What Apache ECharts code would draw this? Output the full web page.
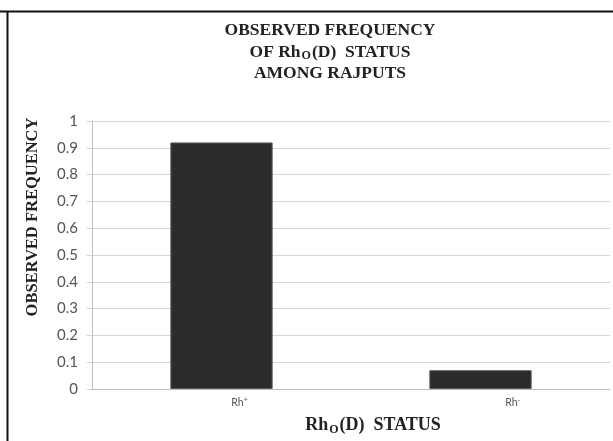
<!DOCTYPE html>
<html><head><meta charset="utf-8">
<script src="https://cdn.jsdelivr.net/npm/echarts@6/dist/echarts.min.js"></script>
<style>html,body{margin:0;padding:0;background:#fff}#c{width:613px;height:441px}</style>
</head><body><div id="c"></div>
<script>
const categories = ['Rh+', 'Rh-'];
const frequencies = [0.92, 0.07];
const yTicks = [0, 0.1, 0.2, 0.3, 0.4, 0.5, 0.6, 0.7, 0.8, 0.9, 1];

const chart = echarts.init(document.getElementById('c'));
const serif = '"Liberation Serif", "Times New Roman", serif';
const sans = 'Lato, "Open Sans", sans-serif';
chart.setOption({
  animation: false,
  backgroundColor: '#fff',
  title: {
    left: 325, top: 15, textAlign: 'center',
    text: '{t|OBSERVED FREQUENCY}\n{t|OF Rh}{s|O}{t|(D)  STATUS}\n{t|AMONG RAJPUTS}',
    textStyle: {
      rich: {
        t: {fontFamily: serif, fontWeight: 'bold', fontSize: 17.5, color: '#222', lineHeight: 21.5},
        s: {fontFamily: serif, fontWeight: 'bold', fontSize: 12, color: '#222', lineHeight: 21.5, padding: [7, 1, 0, 1]}
      }
    }
  },
  graphic: [
    {type: 'line', shape: {x1: 0, y1: 11.5, x2: 613, y2: 11.5}, style: {stroke: '#111', lineWidth: 2}},
    {type: 'line', shape: {x1: 7.5, y1: 11, x2: 7.5, y2: 441}, style: {stroke: '#111', lineWidth: 2}}
  ],
  grid: {left: 92, right: 3, top: 121, bottom: 50},
  xAxis: {
    type: 'category', data: categories,
    axisLine: {lineStyle: {color: '#bfbfbf'}},
    axisTick: {show: false},
    axisLabel: {
      margin: 8,
      formatter: (v) => v === 'Rh+' ? '{p1|Rh}{sp|+}' : '{p2|Rh}{sm|-}',
      rich: {
        p1: {fontFamily: sans, fontSize: 10.5, color: '#555', padding: [0, 0, 0, 36]},
        p2: {fontFamily: sans, fontSize: 10.5, color: '#555', padding: [0, 0, 0, 64]},
        sp: {fontSize: 7, color: '#555', padding: [0, 0, 5, 0]},
        sm: {fontSize: 7, color: '#555', padding: [0, 0, 5, 0]}
      }
    },
    name: '{t|Rh}{s|O}{t|(D)  STATUS}',
    nameLocation: 'middle', nameGap: 26,
    nameTextStyle: {
      rich: {
        t: {fontFamily: serif, fontWeight: 'bold', fontSize: 18, color: '#222'},
        s: {fontFamily: serif, fontWeight: 'bold', fontSize: 12, color: '#222', padding: [9, 1, 0, 1]}
      },
      padding: [0, 0, 0, 44]
    }
  },
  yAxis: {
    type: 'value', min: 0, max: 1, interval: 0.1,
    axisLine: {show: true, lineStyle: {color: '#bfbfbf'}},
    axisTick: {show: true, length: 5, lineStyle: {color: '#d0d0d0'}},
    splitLine: {lineStyle: {color: '#d6d6d6'}},
    axisLabel: {
      margin: 14, fontFamily: sans, fontSize: 15, color: '#555',
      formatter: (v) => String(yTicks.find(t => Math.abs(t - v) < 1e-9) ?? v)
    },
    name: 'OBSERVED FREQUENCY',
    nameLocation: 'middle', nameGap: 51, nameRotate: 90,
    nameTextStyle: {fontFamily: serif, fontWeight: 'bold', fontSize: 16.5, color: '#222', padding: [0, 0, 0, 76]}
  },
  series: [{
    type: 'bar', data: frequencies, barWidth: '39.5%',
    itemStyle: {color: '#2b2b2b', borderColor: '#5a5a5a', borderWidth: 1}
  }]
});
</script></body></html>
